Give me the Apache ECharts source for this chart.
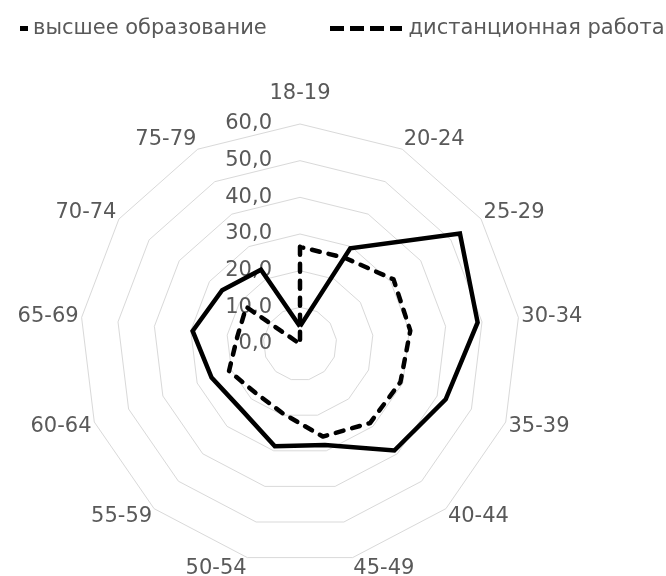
<!DOCTYPE html>
<html>
<head>
<meta charset="utf-8">
<script src="https://cdn.jsdelivr.net/npm/echarts@6/dist/echarts.min.js"></script>
<style>
  html, body { margin: 0; padding: 0; background: #fff; }
  #chart { width: 666px; height: 576px; }
</style>
</head>
<body>
<div id="chart"></div>
<script>
// возрастные группы
const categories = ['18-19', '20-24', '25-29', '30-34', '35-39', '40-44', '45-49',
  '50-54', '55-59', '60-64', '65-69', '70-74', '75-79']
// значения серий
const higherEdu = [4.8, 29.5, 53.0, 48.8, 42.5, 38.8, 28.4, 28.7, 24.0, 25.8, 29.5, 25.8, 22.9]
const remoteWork = [26.5, 26.5, 31.0, 30.3, 29.3, 28.8, 26.0, 19.5, 18.0, 20.7, 17.2, 17.8, 0]
const seriesNames = ['высшее образование', 'дистанционная работа']
// шкала
const axisMin = 0
const axisMax = 60
const axisSplit = 6

const textColor = '#595959'
const font = 'DejaVu Sans'
const fontSize = 21

const chart = echarts.init(document.getElementById('chart'))

// radar в echarts идёт против часовой стрелки, а в Excel по часовой -> переставляем
const n = categories.length
const order = categories.map((c, j) => (n - j) % n)
const pick = arr => order.map(k => arr[k])

// сдвиг подписей категорий по вертикали (как в Excel - текст прижат к вершине)
const nameRich = {}
categories.forEach((c, k) => {
  const angle = k * 2 * Math.PI / n
  const s = k === 0 ? 0 : Math.round(8 * Math.cos(angle))
  nameRich['p' + k] = {
    color: textColor,
    fontSize: fontSize,
    fontFamily: font,
    padding: s > 0 ? [0, 0, 2 * s, 0] : [-2 * s, 0, 0, 0]
  }
})

const indicator = order.map((k, j) => {
  const item = { name: categories[k], min: axisMin, max: axisMax }
  if (j === 0) {
    item.nameTextStyle = { padding: [0, 0, 17, 0] }
    item.axisLabel = {
      show: true,
      color: textColor,
      fontSize: fontSize,
      fontFamily: font,
      margin: 28,
      formatter: v => v.toFixed(1).replace('.', ',')
    }
  }
  return item
})

const legendText = { color: textColor, fontSize: fontSize, fontFamily: font }

const option = {
  backgroundColor: '#fff',
  animation: false,
  legend: [
    {
      data: [{ name: seriesNames[0], icon: 'path://M0,0H8V5H0Z' }],
      left: 15,
      top: 13,
      itemWidth: 8,
      itemHeight: 5,
      textStyle: legendText
    },
    {
      data: [{ name: seriesNames[1], icon: 'path://M0,0H14V5H0Z M20,0H34V5H20Z M40,0H54V5H40Z M60,0H72V5H60Z' }],
      left: 325,
      top: 13,
      itemWidth: 75,
      itemHeight: 5,
      textStyle: legendText
    }
  ],
  radar: {
    center: [300, 344],
    radius: 220,
    startAngle: 90,
    shape: 'polygon',
    splitNumber: axisSplit,
    indicator: indicator,
    axisName: {
      color: textColor,
      fontSize: fontSize,
      fontFamily: font,
      formatter: name => '{p' + categories.indexOf(name) + '|' + name + '}',
      rich: nameRich
    },
    axisNameGap: 3,
    axisLine: { show: false },
    axisTick: { show: false },
    axisLabel: { show: false },
    splitLine: { lineStyle: { color: '#d9d9d9', width: 1 } },
    splitArea: { show: false }
  },
  series: [
    {
      type: 'radar',
      symbol: 'none',
      data: [
        {
          name: seriesNames[0],
          value: pick(higherEdu),
          itemStyle: { color: '#000' },
          lineStyle: { color: '#000', width: 4.5, join: 'miter' }
        },
        {
          name: seriesNames[1],
          value: pick(remoteWork),
          itemStyle: { color: '#000' },
          lineStyle: { color: '#000', width: 4.5, type: [8, 9], cap: 'round' }
        }
      ]
    }
  ]
}

chart.setOption(option)
</script>
</body>
</html>
